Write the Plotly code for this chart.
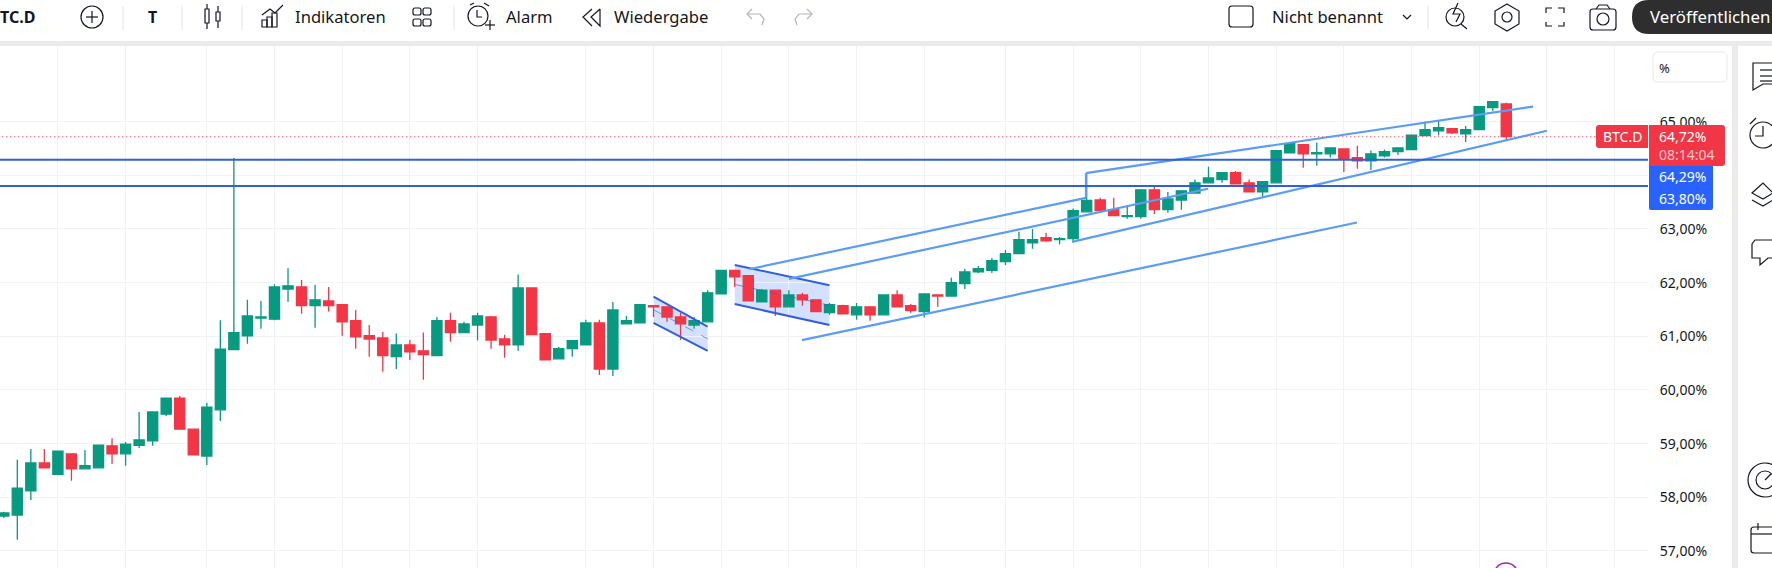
import plotly.graph_objects as go

# ---- data: daily candles of BTC.D (percent) ----
bars = list(range(-1, 111))
opens = [57.65,57.67,58.12,58.64,58.43,58.81,58.53,58.55,58.96,58.81,58.97,59.05,59.55,59.85,59.27,58.77,59.63,60.75,61.01,61.34,61.32,61.88,61.92,61.57,61.66,
         61.59,61.29,61.01,60.97,60.62,60.84,60.73,60.64,61.29,61.07,61.21,61.36,60.95,60.84,61.90,61.05,60.58,60.77,60.84,61.25,60.39,61.23,61.25,61.57,61.55,61.36,
         61.21,61.27,61.79,62.23,62.13,61.64,61.86,61.55,61.77,61.68,61.44,61.57,61.40,61.55,61.40,61.77,61.57,61.46,61.77,61.75,61.98,62.20,62.23,62.39,
         62.54,62.74,62.84,62.80,62.82,63.32,63.54,63.36,63.23,63.23,63.73,63.36,63.54,63.67,63.86,63.92,64.05,63.86,63.69,63.86,64.42,64.57,64.40,64.40,64.49,64.33,
         64.27,64.36,64.44,64.48,64.74,64.83,64.87,64.77,64.85,65.26,65.33]
highs = [57.73,58.70,58.90,58.90,58.86,58.81,58.88,58.97,59.10,59.03,59.59,59.59,59.85,59.89,59.27,59.76,61.30,64.32,61.68,61.66,61.97,62.27,62.05,61.96,61.92,
         61.59,61.49,61.21,61.08,61.05,60.93,61.07,61.36,61.44,61.27,61.44,61.38,61.03,62.15,61.90,61.05,60.80,60.92,61.31,61.31,61.64,61.38,61.59,61.57,61.55,61.44,
         61.36,61.86,62.23,62.23,62.13,61.88,61.86,61.86,61.81,61.68,61.62,61.59,61.62,61.55,61.77,61.86,61.60,61.79,61.77,62.09,62.26,62.31,62.46,62.61,
         62.95,63.00,62.93,62.85,63.38,64.05,63.58,63.58,63.41,63.73,63.79,63.69,63.71,63.92,64.16,64.05,64.08,63.92,63.88,64.46,64.59,64.57,64.61,64.51,64.49,64.55,
         64.46,64.48,64.51,64.75,65.00,65.02,64.87,64.92,65.28,65.37,65.35]
lows = [57.62,57.21,57.95,58.55,58.43,58.31,58.53,58.55,58.62,58.59,58.92,58.96,59.51,59.27,58.79,58.60,59.42,60.75,60.86,61.14,61.30,61.64,61.42,61.16,61.46,
        61.01,60.77,60.62,60.34,60.39,60.56,60.19,60.64,60.90,61.07,60.92,60.77,60.60,60.73,61.03,60.56,60.58,60.62,60.84,60.28,60.26,61.23,61.25,61.36,61.27,60.93,
        61.14,61.27,61.79,61.92,61.66,61.64,61.38,61.55,61.57,61.46,61.40,61.42,61.31,61.29,61.40,61.55,61.44,61.35,61.55,61.75,61.88,62.18,62.18,62.33,
        62.54,62.63,62.76,62.71,62.76,63.32,63.34,63.25,63.19,63.19,63.28,63.30,63.36,63.67,63.86,63.86,63.84,63.69,63.60,63.86,64.42,64.14,64.18,64.33,64.06,64.12,
        64.10,64.33,64.38,64.48,64.74,64.74,64.77,64.62,64.85,65.20,64.66]
closes = [57.71,58.17,58.64,58.55,58.86,58.53,58.59,58.97,58.81,58.99,59.07,59.59,59.85,59.27,58.79,59.68,60.76,61.07,61.38,61.36,61.92,61.94,61.57,61.68,61.57,
          61.27,60.99,60.95,60.64,60.84,60.71,60.66,61.29,61.07,61.23,61.38,60.93,60.84,61.90,61.03,60.56,60.77,60.92,61.25,60.39,61.49,61.29,61.59,61.55,61.36,61.23,
          61.29,61.81,62.23,62.11,61.66,61.86,61.55,61.77,61.68,61.46,61.59,61.42,61.55,61.40,61.77,61.55,61.48,61.79,61.75,62.00,62.20,62.26,62.41,62.54,
          62.80,62.80,62.78,62.82,63.34,63.53,63.34,63.25,63.25,63.73,63.36,63.56,63.71,63.86,63.95,64.05,63.84,63.69,63.88,64.46,64.59,64.40,64.42,64.51,64.31,64.27,
          64.40,64.44,64.51,64.75,64.85,64.89,64.79,64.85,65.28,65.37,64.72]

price_ticks = [57, 58, 59, 60, 61, 62, 63, 64, 65]
# 64,00% sits behind the blue level labels in the reference, so it has no visible label
price_labels = ["57,00%", "58,00%", "59,00%", "60,00%", "61,00%", "62,00%", "63,00%", "", "65,00%"]
date_grid = [3, 8, 14, 19, 24, 29, 34, 42, 47, 52, 57, 62, 67, 73, 78, 83, 88, 93, 98, 103, 108, 113, 118]
last_price = 64.72
levels = [64.29, 63.80]

flag1_x = [47, 51]
flag1_top = [61.74, 61.18]
flag1_bot = [61.25, 60.73]
flag2_x = [53, 60]
flag2_top = [62.33, 61.95]
flag2_bot = [61.60, 61.21]
channels = [([54.06, 78.95], [62.25, 63.58]),
            ([78.95, 78.95], [63.58, 64.04]),
            ([78.95, 111.98], [64.04, 65.28]),
            ([57.0, 87.97], [62.07, 63.75]),
            ([57.97, 98.97], [60.93, 63.12]),
            ([77.92, 113.0], [62.76, 64.83])]

GREEN, RED, BLUE, LEVEL, CHAN = "#089981", "#f23645", "#2962ff", "#2f5fdc", "#5b9cf6"
W, H, L_PX, T_PX = 1772, 568, 1648, 46
FONT = "Noto Sans"
INK = "#131722"
TB = 16.6


def X(p):
    return p / L_PX


def Y(p):
    return (H - p) / (H - T_PX)


shapes, notes = [], []


def rect(x0, y0, x1, y1, fill=None, line=None, lw=1.2):
    shapes.append(dict(type="rect", xref="paper", yref="paper", x0=X(x0), x1=X(x1), y0=Y(y0), y1=Y(y1), layer="above",
                       fillcolor=fill or "rgba(0,0,0,0)", line=dict(color=line or "rgba(0,0,0,0)", width=lw if line else 0)))


def irect(x0, y0, x1, y1):
    rect(x0, y0, x1, y1, line=INK)


def rrect(x0, y0, x1, y1, radii, fill=None, line=None, lw=1.2):
    tl, tr, br, bl = radii
    P = lambda a, b: f"{X(a):.5f},{Y(b):.5f}"
    d = (f"M{P(x0+tl, y0)} L{P(x1-tr, y0)} Q{P(x1, y0)} {P(x1, y0+tr)} L{P(x1, y1-br)} Q{P(x1, y1)} {P(x1-br, y1)} "
         f"L{P(x0+bl, y1)} Q{P(x0, y1)} {P(x0, y1-bl)} L{P(x0, y0+tl)} Q{P(x0, y0)} {P(x0+tl, y0)} Z")
    shapes.append(dict(type="path", xref="paper", yref="paper", path=d, layer="above",
                       fillcolor=fill or "rgba(0,0,0,0)", line=dict(color=line or "rgba(0,0,0,0)", width=lw if line else 0)))


def seg(x0, y0, x1, y1, col=INK, lw=1.2):
    shapes.append(dict(type="line", xref="paper", yref="paper", x0=X(x0), x1=X(x1), y0=Y(y0), y1=Y(y1), layer="above",
                       line=dict(color=col, width=lw)))


def circ(cx, cy, r, col=INK, lw=1.2):
    shapes.append(dict(type="circle", xref="paper", yref="paper", x0=X(cx-r), x1=X(cx+r), y0=Y(cy-r), y1=Y(cy+r), layer="above",
                       line=dict(color=col, width=lw)))


def poly(pts, col=INK, lw=1.2, close=False):
    d = "M" + " L".join(f"{X(a):.5f},{Y(b):.5f}" for a, b in pts) + (" Z" if close else "")
    shapes.append(dict(type="path", xref="paper", yref="paper", path=d, layer="above", line=dict(color=col, width=lw)))


def text(x, y, s, size=TB, col=INK, anchor="left", bold=False):
    notes.append(dict(xref="paper", yref="paper", x=X(x), y=Y(y), text=f"<b>{s}</b>" if bold else s, showarrow=False,
                      xanchor=anchor, yanchor="middle", font=dict(family=FONT, size=size, color=col), borderpad=0, borderwidth=0))


fig = go.Figure()
fig.add_trace(go.Scatter(x=[-2, 121], y=[last_price]*2, mode="lines", line=dict(color=RED, width=1, dash="1px,3px"), hoverinfo="skip"))
fig.add_trace(go.Candlestick(x=bars, open=opens, high=highs, low=lows, close=closes, whiskerwidth=0,
                             increasing=dict(line=dict(color=GREEN, width=1.3), fillcolor=GREEN),
                             decreasing=dict(line=dict(color=RED, width=1.3), fillcolor=RED)))
for fx, ft, fb in [(flag1_x, flag1_top, flag1_bot), (flag2_x, flag2_top, flag2_bot)]:
    # shaded body sits behind the candles
    shapes.append(dict(type="path", xref="x", yref="y", layer="below", fillcolor="rgba(41,98,255,0.2)", line=dict(width=0),
                       path=f"M{fx[0]},{ft[0]} L{fx[1]},{ft[1]} L{fx[1]},{fb[1]} L{fx[0]},{fb[0]} Z"))
    for ys in (ft, fb):
        fig.add_trace(go.Scatter(x=fx, y=ys, mode="lines", line=dict(color=LEVEL, width=2), hoverinfo="skip"))
    fig.add_trace(go.Scatter(x=fx, y=[(a+b)/2 for a, b in zip(ft, fb)], mode="lines", line=dict(color=LEVEL, width=1, dash="dash"), opacity=0.6, hoverinfo="skip"))
for cx, cy in channels:
    fig.add_trace(go.Scatter(x=cx, y=cy, mode="lines", line=dict(color=CHAN, width=2.2), hoverinfo="skip"))
for lv in levels:
    fig.add_trace(go.Scatter(x=[-2, 121], y=[lv]*2, mode="lines", line=dict(color=LEVEL, width=2), hoverinfo="skip"))

# frame of the page
rect(0, 0, W, 41, fill="#ffffff")
rect(0, 41, W, 46, fill="#ebebeb")
rect(1732, 41, 1738, H, fill="#ebebeb")
rect(1738, 46, W, H, fill="#ffffff")

# top toolbar
text(0, 17, "TC.D", 16, bold=True)
circ(92, 17, 11)
seg(86, 17, 98, 17)
seg(92, 11, 92, 23)
for sx in (123, 182, 242, 454, 1428):
    seg(sx, 6, sx, 30, "#e0e3eb", 1)
text(152, 17, "T", 16, anchor="center", bold=True)
irect(205, 9, 209, 23)
seg(207, 4, 207, 9)
seg(207, 23, 207, 29)
irect(216, 12, 220, 21)
seg(218, 6, 218, 12)
seg(218, 21, 218, 28)
poly([(262, 15), (270, 9), (275, 13), (283, 5)])
irect(262, 20, 267, 27)
irect(267, 17, 272, 27)
irect(272, 13, 277, 27)
text(295, 17, "Indikatoren")
for ix, iy in ((417, 8), (427, 8), (417, 19), (427, 19)):
    rrect(ix-4, iy, ix+4, iy+7, (2, 2, 2, 2), line=INK)
circ(478, 16, 10)
poly([(477, 10), (477, 17), (482, 17)])
seg(485, 25, 495, 25)
seg(490, 20, 490, 30)
seg(470, 5, 474, 3)
seg(484, 3, 489, 6)
text(506, 17, "Alarm")
poly([(592, 9), (583, 17), (592, 26)])
poly([(600, 9), (591, 17), (600, 26), (600, 9)])
text(614, 17, "Wiedergabe")
poly([(752, 9), (747, 14), (752, 19)], "#b2b5be")
poly([(747, 14), (760, 14), (764, 19), (762, 25)], "#b2b5be")
poly([(807, 9), (812, 14), (807, 19)], "#b2b5be")
poly([(812, 14), (799, 14), (795, 19), (797, 25)], "#b2b5be")
rrect(1229, 6, 1253, 27, (3, 3, 3, 3), line=INK)
text(1272, 17, "Nicht benannt")
poly([(1403, 15), (1407, 19), (1411, 15)])
circ(1455, 17, 9)
poly([(1458, 3), (1453, 14), (1460, 14), (1456, 22)])
seg(1461, 24, 1467, 29)
poly([(1507, 4), (1519, 11), (1519, 24), (1507, 31), (1495, 24), (1495, 11)], close=True)
circ(1507, 17, 5)
for a, b, c, d, e, f in ((1546, 13, 1546, 8, 1552, 8), (1558, 8, 1564, 8, 1564, 13), (1564, 22, 1564, 26, 1558, 26), (1552, 26, 1546, 26, 1546, 22)):
    poly([(a, b), (c, d), (e, f)])
rrect(1590, 9, 1616, 30, (3, 3, 3, 3), line=INK)
poly([(1596, 9), (1599, 5), (1607, 5), (1610, 9)])
circ(1603, 19, 6)
rrect(1632, 0, W+20, 34, (17, 17, 17, 17), fill="#2e2e2e")
text(1650, 17, "Veröffentlichen", 16.8, col="#ffffff")

# price scale furniture
rrect(1653, 52, 1727, 82, (5, 5, 5, 5), line="#e6e9ee", lw=1)
text(1659, 68, "%", 13)
rrect(1596, 125, 1648, 148, (3, 0, 0, 3), fill=RED)
rrect(1649, 125, 1725, 166, (0, 3, 3, 0), fill=RED)
rrect(1649, 166, 1713, 210, (0, 0, 2, 2), fill=BLUE)
text(1622, 136, "BTC.D", 14, "#ffffff", anchor="center")
text(1659, 136, "64,72%", 14, "#ffffff")
text(1659, 154, "08:14:04", 14, "rgba(255,255,255,0.72)")
text(1659, 176, "64,29%", 14, "#ffffff")
text(1659, 198, "63,80%", 14, "#ffffff")

# right sidebar
poly([(1773, 63), (1753, 63), (1753, 90), (1763, 84), (1773, 84)])
for ly in (70, 76, 81):
    seg(1760, ly, 1773, ly)
circ(1763, 135, 13)
poly([(1763, 126), (1763, 136), (1755, 136)])
seg(1750, 124, 1756, 118)
poly([(1773, 193), (1763, 183), (1752, 193), (1763, 199), (1773, 193)])
poly([(1752, 200), (1763, 206), (1773, 200)])
poly([(1773, 240), (1755, 240), (1752, 244), (1752, 258), (1760, 258), (1760, 265), (1768, 258), (1773, 258)])
circ(1765, 480, 17)
circ(1765, 480, 9)
seg(1765, 480, 1771, 474)
rrect(1751, 527, 1780, 553, (3, 3, 3, 3), line=INK)
seg(1751, 534, 1775, 534)
seg(1758, 523, 1758, 530)
# purple marker under the plot
circ(1506, 575, 12, "#9c27b0", 1.6)

fig.update_layout(
    width=W, height=H, margin=dict(l=0, r=W-L_PX, t=T_PX, b=0), showlegend=False,
    paper_bgcolor="#ffffff", plot_bgcolor="#ffffff", separators=",.", boxgap=0.25, boxgroupgap=0,
    font=dict(family=FONT, size=14, color=INK), shapes=shapes, annotations=notes,
    xaxis=dict(range=[-1.278, 120.47], rangeslider=dict(visible=False), tickvals=date_grid, showticklabels=False, ticks="",
               showgrid=True, gridcolor="#f0f3f6", gridwidth=1, zeroline=False, showline=False),
    yaxis=dict(range=[56.683, 66.409], side="right", tickvals=price_ticks, ticktext=price_labels,
               ticks="outside", ticklen=8, tickcolor="rgba(0,0,0,0)", showgrid=True, gridcolor="#f0f3f6", gridwidth=1,
               zeroline=False, showline=False, tickfont=dict(family=FONT, size=14, color=INK)),
)
fig.write_html("out.html", config=dict(displayModeBar=False),
               post_script="document.body.style.margin='0';document.body.style.overflow='hidden';")
